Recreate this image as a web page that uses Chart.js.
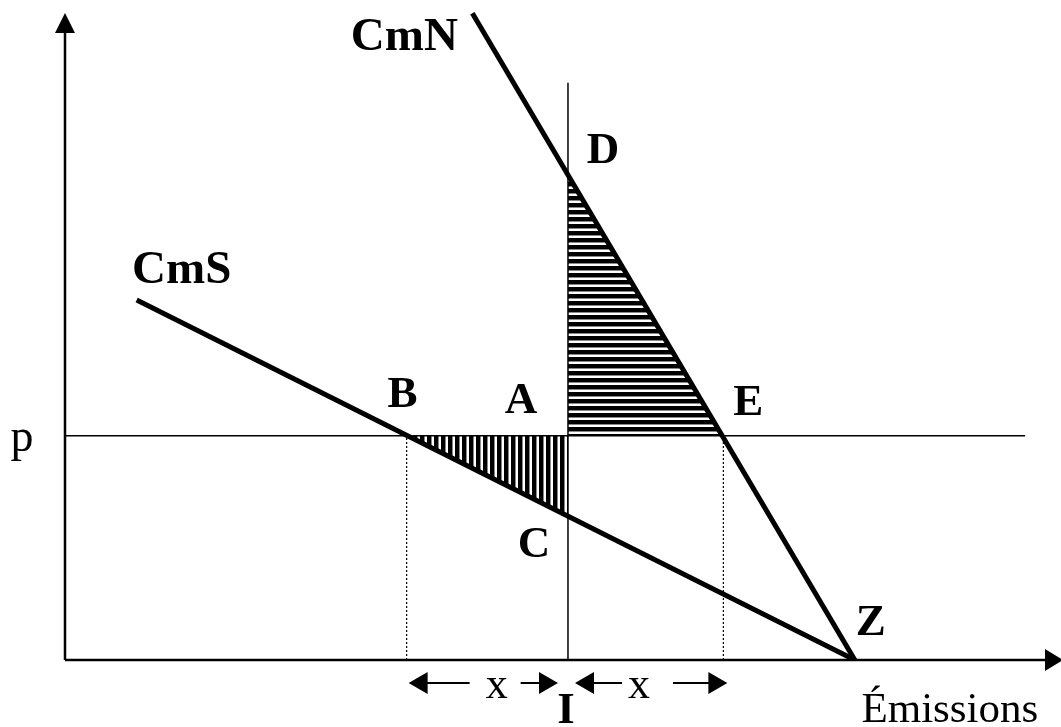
<!DOCTYPE html>
<html>
<head>
<meta charset="utf-8">
<script src="https://cdn.jsdelivr.net/npm/chart.js@4/dist/chart.umd.min.js"></script>
<style>
  html, body { margin: 0; padding: 0; background: #fff; }
  #wrap { width: 1061px; height: 727px; }
</style>
</head>
<body>
<div id="wrap"><canvas id="graphe"></canvas></div>
<script>
// Données du schéma (unités arbitraires, axes de 0 à 10)
const prix = 3.45;            // niveau p
const niveauI = 5.05;         // émissions I
const finLigneP = 9.64;
const hautVerticaleI = 8.88;
const cmN = [{x: 4.09, y: 9.95}, {x: 7.93, y: 0}];
const cmS = [{x: 0.72, y: 5.54}, {x: 7.93, y: 0}];
const nomsPoints = ['A', 'B', 'C', 'D', 'E', 'Z'];
const pointsX = [5.05, 3.43, 5.05, 5.05, 6.61, 7.93];
const pointsY = [3.45, 3.45, 2.21, 7.46, 3.45, 0];

const pt = nom => {
    const i = nomsPoints.indexOf(nom);
    return {x: pointsX[i], y: pointsY[i]};
};

const serif = '"Liberation Serif", "Times New Roman", serif';
const canvas = document.getElementById('graphe');
const ctx = canvas.getContext('2d');

// Hachures (verticales pour BAC, horizontales pour ADE)
function hachures(vertical) {
    const c = document.createElement('canvas');
    c.width = 7; c.height = 7;
    const g = c.getContext('2d');
    g.fillStyle = '#fff';
    g.fillRect(0, 0, 7, 7);
    g.fillStyle = '#000';
    if (vertical) g.fillRect(0, 0, 4, 7); else g.fillRect(0, 0, 7, 4);
    g.fillStyle = '#888';
    if (vertical) g.fillRect(4, 0, 1, 7); else g.fillRect(0, 4, 7, 1);
    return ctx.createPattern(c, 'repeat');
}

// Étiquettes : décalages en pixels par rapport au point ancré
const etiquettes = [
    {texte: 'CmN', ancre: () => cmN[0], dx: -68, dy: 37, gras: true, taille: 47},
    {texte: 'CmS', ancre: () => cmS[0], dx: 45, dy: -17, gras: true, taille: 47},
    {texte: 'A', ancre: () => pt('A'), dx: -47, dy: -23, gras: true, taille: 45},
    {texte: 'B', ancre: () => pt('B'), dx: -4, dy: -29, gras: true, taille: 45},
    {texte: 'C', ancre: () => pt('C'), dx: -34, dy: 41, gras: true, taille: 45},
    {texte: 'D', ancre: () => pt('D'), dx: 35, dy: -12, gras: true, taille: 45},
    {texte: 'E', ancre: () => pt('E'), dx: 25, dy: -21, gras: true, taille: 45},
    {texte: 'Z', ancre: () => pt('Z'), dx: 16, dy: -25, gras: true, taille: 45},
    {texte: 'I', ancre: () => ({x: niveauI, y: 0}), dx: -2, dy: 63, gras: true, taille: 45},
    {texte: 'p', ancre: () => ({x: 0, y: prix}), dx: -43, dy: 15, gras: false, taille: 46},
    {texte: 'Émissions', ancre: () => pt('Z'), dx: 95, dy: 62, gras: false, taille: 43}
];

function flecheH(c, xDe, xA, y) {
    const sens = Math.sign(xA - xDe);
    c.beginPath();
    c.moveTo(xDe, y);
    c.lineTo(xA - sens * 16, y);
    c.lineWidth = 2;
    c.stroke();
    c.beginPath();
    c.moveTo(xA, y);
    c.lineTo(xA - sens * 19, y - 11);
    c.lineTo(xA - sens * 19, y + 11);
    c.closePath();
    c.fill();
}

const decor = {
    id: 'decor',
    afterDatasetsDraw(chart) {
        const c = chart.ctx;
        const sx = chart.scales.x, sy = chart.scales.y;
        const x0 = sx.getPixelForValue(0), y0 = sy.getPixelForValue(0);
        c.save();
        c.fillStyle = '#000';
        c.strokeStyle = '#000';

        // axes avec flèches
        const haut = sy.getPixelForValue(10) + 3;
        const droite = sx.getPixelForValue(10) + 2;
        c.lineWidth = 2.5;
        c.beginPath();
        c.moveTo(x0, y0); c.lineTo(x0, haut + 18);
        c.moveTo(x0, y0); c.lineTo(droite - 16, y0);
        c.stroke();
        c.beginPath();
        c.moveTo(x0, haut); c.lineTo(x0 - 10, haut + 20); c.lineTo(x0 + 10, haut + 20);
        c.closePath(); c.fill();
        c.beginPath();
        c.moveTo(droite, y0); c.lineTo(droite - 18, y0 - 11); c.lineTo(droite - 18, y0 + 11);
        c.closePath(); c.fill();

        // flèches "x" de part et d'autre de I
        const bx = sx.getPixelForValue(pt('B').x);
        const ix = sx.getPixelForValue(niveauI);
        const ex = sx.getPixelForValue(pt('E').x);
        const ya = y0 + 23;
        flecheH(c, bx + 63, bx + 2, ya);
        flecheH(c, bx + 114, ix - 10, ya);
        flecheH(c, ix + 54, ix + 7, ya);
        flecheH(c, ix + 105, ex + 4, ya);
        c.font = '44px ' + serif;
        c.textAlign = 'center';
        c.textBaseline = 'alphabetic';
        c.fillText('x', bx + 90, y0 + 38);
        c.fillText('x', ix + 71, y0 + 38);

        // étiquettes
        etiquettes.forEach(e => {
            const a = e.ancre();
            c.font = (e.gras ? 'bold ' : '') + e.taille + 'px ' + serif;
            c.fillText(e.texte, sx.getPixelForValue(a.x) + e.dx, sy.getPixelForValue(a.y) + e.dy);
        });
        c.restore();
    }
};

const ligne = (data, largeur, extra) => Object.assign({
    data: data,
    showLine: true,
    borderColor: '#000',
    borderWidth: largeur,
    pointRadius: 0,
    fill: false,
    tension: 0
}, extra || {});

const graphe = new Chart(ctx, {
    type: 'scatter',
    data: {
        datasets: [
            ligne(cmN, 5),
            ligne(cmS, 5),
            ligne([{x: 0, y: prix}, {x: finLigneP, y: prix}], 1.5),
            ligne([{x: niveauI, y: 0}, {x: niveauI, y: hautVerticaleI}], 1.5),
            ligne([{x: pt('B').x, y: 0}, {x: pt('B').x, y: prix}], 1.2, {borderDash: [2, 2]}),
            ligne([{x: pt('E').x, y: 0}, {x: pt('E').x, y: prix}], 1.2, {borderDash: [2, 2]}),
            ligne([pt('B'), pt('A'), pt('C')], 0, {fill: 'shape', backgroundColor: hachures(true), borderColor: 'rgba(0,0,0,0)'}),
            ligne([pt('A'), pt('D'), pt('E')], 0, {fill: 'shape', backgroundColor: hachures(false), borderColor: 'rgba(0,0,0,0)'})
        ]
    },
    options: {
        responsive: true,
        maintainAspectRatio: false,
        animation: false,
        layout: {padding: {left: 65, right: 0, top: 10, bottom: 67}},
        scales: {
            x: {type: 'linear', min: 0, max: 10, display: false},
            y: {type: 'linear', min: 0, max: 10, display: false}
        },
        plugins: {
            legend: {display: false},
            tooltip: {enabled: false}
        }
    },
    plugins: [decor]
});
</script>
</body>
</html>
